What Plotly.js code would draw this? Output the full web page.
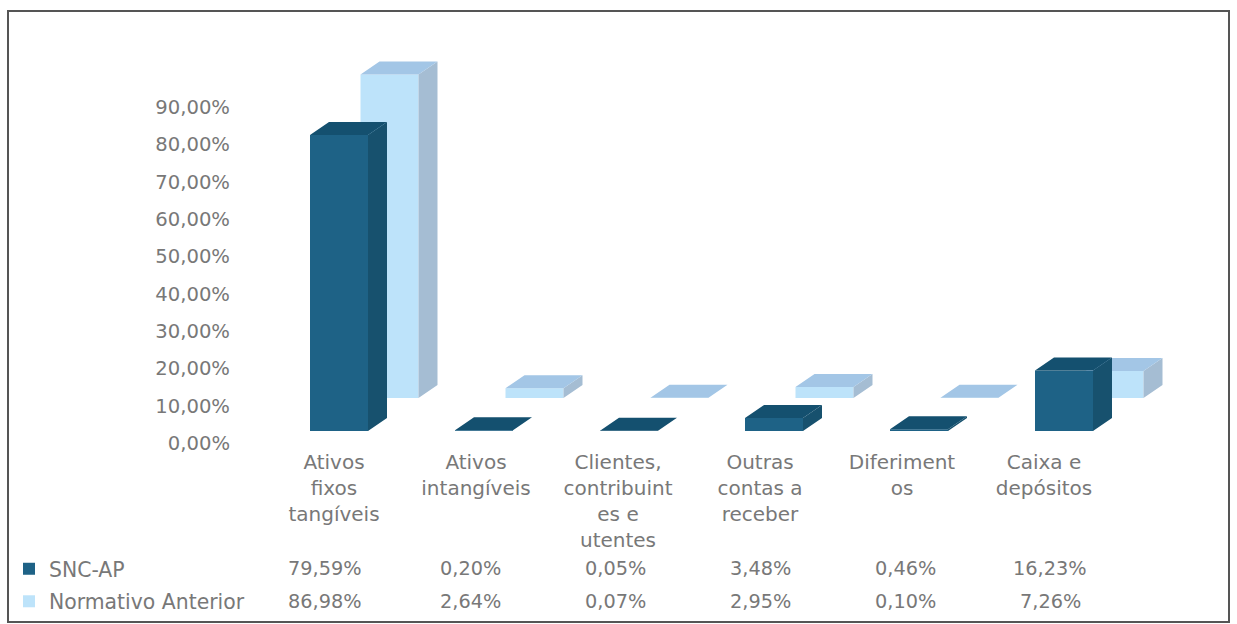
<!DOCTYPE html>
<html><head><meta charset="utf-8">
<script src="https://cdn.plot.ly/plotly-3.0.1.min.js"></script>
<style>html,body{margin:0;padding:0;background:#fff;overflow:hidden}</style>
</head><body><div id="chart" style="width:1237px;height:624px"></div>
<script>
const categories = ["Ativos<br>fixos<br>tangíveis","Ativos<br>intangíveis","Clientes,<br>contribuint<br>es e<br>utentes","Outras<br>contas a<br>receber","Diferiment<br>os","Caixa e<br>depósitos"];
const sncAP = [79.59,0.20,0.05,3.48,0.46,16.23];
const normativoAnterior = [86.98,2.64,0.07,2.95,0.10,7.26];
const sncLabels = ["79,59%","0,20%","0,05%","3,48%","0,46%","16,23%"];
const normLabels = ["86,98%","2,64%","0,07%","2,95%","0,10%","7,26%"];
const yTickVals = [0,10,20,30,40,50,60,70,80,90];
const yTickText = ["0,00%","10,00%","20,00%","30,00%","40,00%","50,00%","60,00%","70,00%","80,00%","90,00%"];

const W=1237,H=624,plotBottom=445;
const pxPerCat=145,pxPerPct=3.72,zeroPx=431,cat0Center=339;
const barW=58/pxPerCat, depthX=19/pxPerCat, depthY=13/pxPerPct;
const backDX=50.5/pxPerCat, backDY=33/pxPerPct;
const textColor="#787878", font="DejaVu Sans";
const idx=categories.map((_,i)=>i);

function faces(vals,dx,dy){
  const side={x:[],y:[]},top={x:[],y:[]};
  vals.forEach((v,i)=>{
    const l=i+dx-barW/2,r=i+dx+barW/2,b=dy,t=dy+v;
    side.x.push(r,r+depthX,r+depthX,r,r,null);
    side.y.push(b,b+depthY,t+depthY,t,b,null);
    top.x.push(l,l+depthX,r+depthX,r,l,null);
    top.y.push(t,t+depthY,t+depthY,t,t,null);
  });
  return {side,top};
}
function faceTrace(f,color){
  return {type:"scatter",mode:"lines",x:f.x,y:f.y,fill:"toself",fillcolor:color,
    line:{width:0,color:color},hoverinfo:"skip",showlegend:false};
}
const bF=faces(normativoAnterior,backDX,backDY), fF=faces(sncAP,0,0);
const traces=[
  {type:"bar",name:"Normativo Anterior",x:idx,y:normativoAnterior,base:backDY,width:barW,offset:backDX-barW/2,
   marker:{color:"#bde3fa"},legendgroup:"b",legendrank:2},
  {type:"bar",name:"SNC-AP",x:idx,y:sncAP,width:barW,offset:-barW/2,
   marker:{color:"#1e6286"},legendgroup:"a",legendrank:1},
  faceTrace(bF.side,"#a5bdd3"),faceTrace(bF.top,"#a3c6e6"),
  faceTrace(fF.side,"#17516e"),faceTrace(fF.top,"#14506f"),
  {type:"scatter",mode:"markers",x:idx,y:sncAP,xaxis:"x2",yaxis:"y2",marker:{opacity:0,size:1},hoverinfo:"skip",showlegend:false}
];
const rowAnn=(labels,py)=>labels.map((t,i)=>({text:t,x:i,xref:"x",xshift:-14,y:(plotBottom-py)/plotBottom,yref:"paper",
  xanchor:"center",yanchor:"middle",showarrow:false,font:{family:font,size:19.3,color:textColor}}));
const layout={
  width:W,height:H,margin:{l:0,r:0,t:0,b:H-plotBottom,pad:0,autoexpand:false},
  paper_bgcolor:"#fff",plot_bgcolor:"#fff",barmode:"overlay",
  xaxis:{range:[-cat0Center/pxPerCat,(W-cat0Center)/pxPerCat],showgrid:false,zeroline:false,showticklabels:false,ticks:""},
  yaxis:{range:[(zeroPx-plotBottom)/pxPerPct,zeroPx/pxPerPct],showgrid:false,zeroline:false,showticklabels:false,ticks:""},
  xaxis2:{overlaying:"x",anchor:"y",side:"bottom",range:[-334/142,(W-334)/142],tickmode:"array",tickvals:idx,ticktext:categories,
    showgrid:false,zeroline:false,showline:false,ticks:"",tickangle:0,ticklabelstandoff:3,tickfont:{family:font,size:20,color:textColor}},
  yaxis2:{overlaying:"y",anchor:"free",position:230/W,side:"left",range:[(443-plotBottom)/3.733,443/3.733],tickmode:"array",
    tickvals:yTickVals,ticktext:yTickText,showgrid:false,zeroline:false,showline:false,ticks:"",tickfont:{family:font,size:19.6,color:textColor}},
  legend:{x:9/W,xanchor:"left",y:(plotBottom-549)/plotBottom,yanchor:"top",traceorder:"grouped",tracegroupgap:3,itemwidth:30,
    bgcolor:"rgba(0,0,0,0)",font:{family:font,size:20.4,color:textColor}},
  shapes:[{type:"rect",xref:"paper",yref:"paper",x0:8/W,x1:1229/W,y0:(plotBottom-622)/plotBottom,y1:(plotBottom-11)/plotBottom,
    line:{color:"#555",width:2},fillcolor:"rgba(0,0,0,0)"}],
  annotations:rowAnn(sncLabels,568).concat(rowAnn(normLabels,601)),
  showlegend:true
};
Plotly.newPlot("chart",traces,layout,{displayModeBar:false,staticPlot:true});
</script></body></html>
